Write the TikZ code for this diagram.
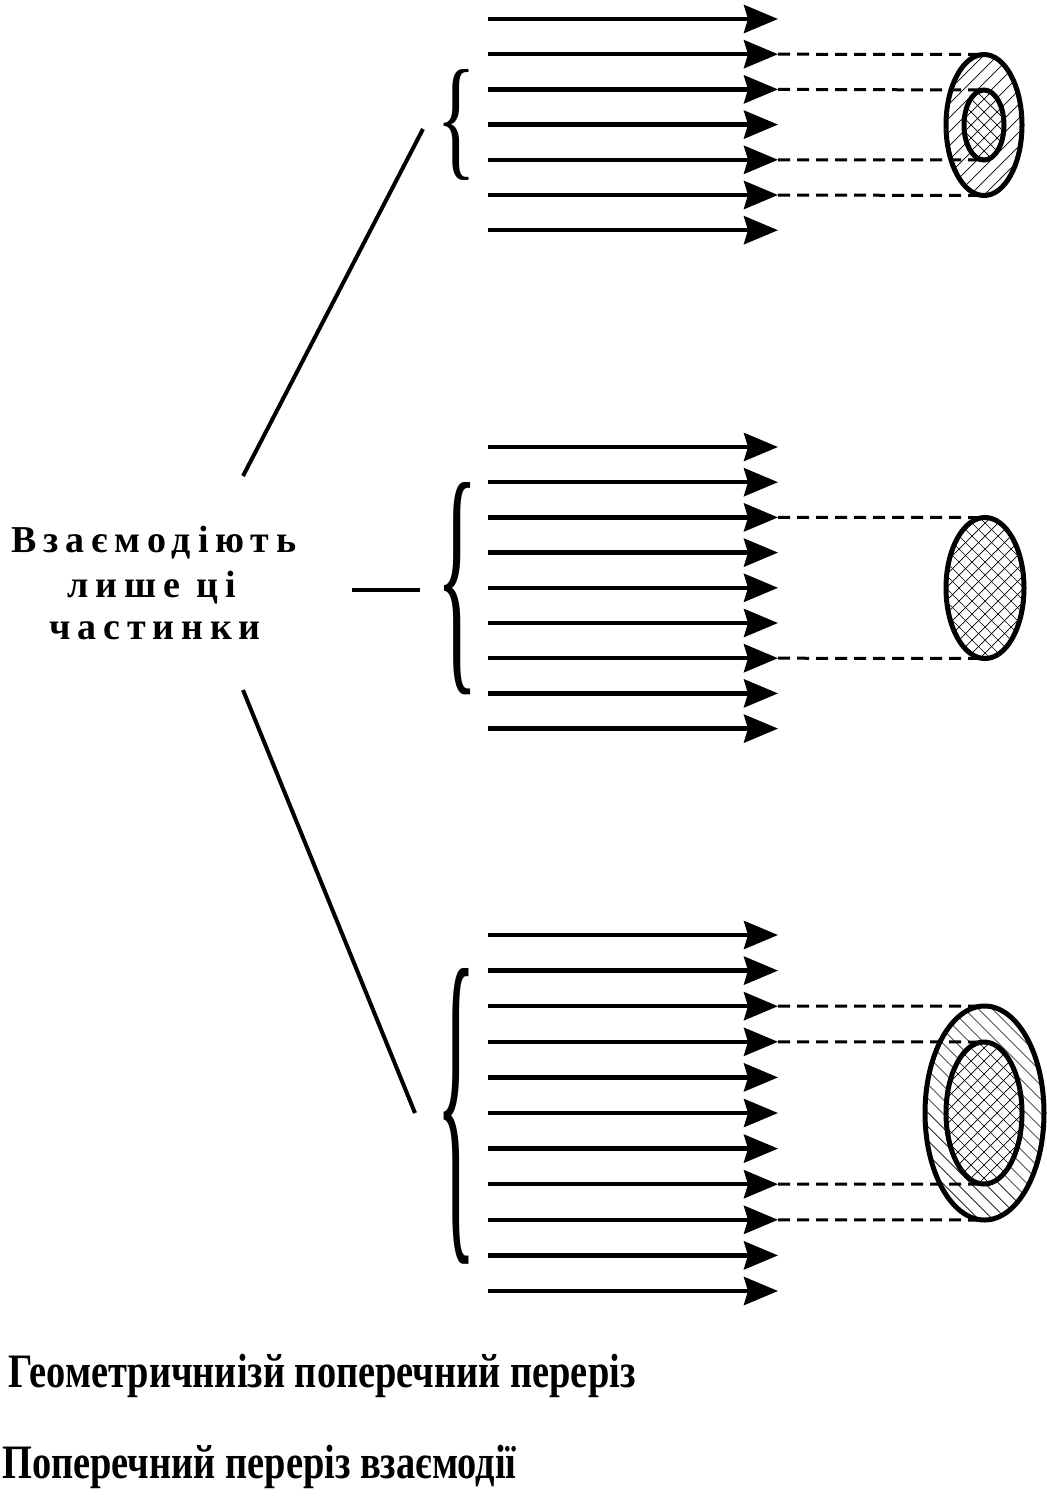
\documentclass[tikz,border=0pt]{standalone}
\usepackage{fontspec}
\setmainfont{Liberation Serif}
\newfontfamily\spacedfont[LetterSpace=18]{Liberation Serif}
\newfontfamily\narrowfont[FakeStretch=0.8]{Liberation Serif}
\newfontfamily\bracefont{Liberation Serif}
\usetikzlibrary{arrows.meta,shapes.geometric}
\begin{document}
\begin{tikzpicture}[x=1pt,y=-1pt,
  arr/.style={line width=4.4pt,-{Stealth[length=34pt,width=28pt,inset=4pt]}},
  dsh/.style={line width=3pt,dash pattern=on 12pt off 7pt},
  conn/.style={line width=4pt},
  ell/.style={ellipse,draw,line width=5pt,inner sep=0pt,outer sep=0pt},
  hatch/.style={line width=0.7pt},
  lbl/.style={inner sep=0pt,font=\spacedfont\bfseries\fontsize{38}{44}\selectfont},
  captext/.style={inner sep=0pt,anchor=base west,font=\narrowfont\bfseries\fontsize{48}{54}\selectfont},
  brc/.style={inner sep=0pt,anchor=west}
]
\useasboundingbox (0,0) rectangle (1047,1497);

% ---------- top group ----------
\foreach \i in {0,...,6}{
  \coordinate (ta\i) at (488,19+35.2*\i);
  \coordinate (tb\i) at (778,19+35.2*\i);
  \draw[arr] (ta\i) -- (tb\i);
}
% outer ring hatching "/"
\begin{scope}
  \clip (984,125) ellipse [x radius=38pt,y radius=70.5pt];
  \foreach \k in {-210,-196,...,210}{
    \draw[hatch] (984+\k-100,225) -- (984+\k+100,25);
  }
\end{scope}
% inner cross hatching
\fill[white] (984,125) ellipse [x radius=20pt,y radius=35pt];
\begin{scope}
  \clip (984,125) ellipse [x radius=20pt,y radius=35pt];
  \foreach \k in {-104,-91,...,104}{
    \draw[hatch] (984+\k-50,175) -- (984+\k+50,75);
    \draw[hatch] (984+\k-50,75) -- (984+\k+50,175);
  }
\end{scope}
\node[ell,minimum width=76pt,minimum height=141pt] (to) at (984,125) {};
\node[ell,minimum width=40pt,minimum height=70pt] (ti) at (984,125) {};
\draw[dsh] (tb1) -- (to.north);
\draw[dsh] (tb2) -- (ti.north);
\draw[dsh] (tb4) -- (ti.south);
\draw[dsh] (tb5) -- (to.south);
\node[brc] (br1) at (436,125) {\resizebox{40pt}{93pt}{\bracefont\{}};

% ---------- middle group ----------
\foreach \i in {0,...,8}{
  \coordinate (ma\i) at (488,447+35.2*\i);
  \coordinate (mb\i) at (778,447+35.2*\i);
  \draw[arr] (ma\i) -- (mb\i);
}
\begin{scope}
  \clip (985,588) ellipse [x radius=39pt,y radius=70.5pt];
  \foreach \k in {-208,-195,...,208}{
    \draw[hatch] (985+\k-100,688) -- (985+\k+100,488);
    \draw[hatch] (985+\k-100,488) -- (985+\k+100,688);
  }
\end{scope}
\node[ell,minimum width=78pt,minimum height=141pt] (mo) at (985,588) {};
\draw[dsh] (mb2) -- (mo.north);
\draw[dsh] (mb6) -- (mo.south);
\node[brc] (br2) at (436,589) {\resizebox{42pt}{178pt}{\bracefont\{}};

% ---------- bottom group ----------
\foreach \i in {0,...,10}{
  \coordinate (ba\i) at (488,935+35.6*\i);
  \coordinate (bb\i) at (778,935+35.6*\i);
  \draw[arr] (ba\i) -- (bb\i);
}
% outer ring hatching "\"
\begin{scope}
  \clip (984.5,1113) ellipse [x radius=59.5pt,y radius=107pt];
  \foreach \k in {-294,-280,...,294}{
    \draw[hatch] (984.5+\k-140,973) -- (984.5+\k+140,1253);
  }
\end{scope}
\fill[white] (984,1113) ellipse [x radius=38pt,y radius=71pt];
\begin{scope}
  \clip (984,1113) ellipse [x radius=38pt,y radius=71pt];
  \foreach \k in {-208,-195,...,208}{
    \draw[hatch] (984+\k-100,1213) -- (984+\k+100,1013);
    \draw[hatch] (984+\k-100,1013) -- (984+\k+100,1213);
  }
\end{scope}
\node[ell,minimum width=119pt,minimum height=214pt] (bo) at (984.5,1113) {};
\node[ell,minimum width=76pt,minimum height=142pt] (bi) at (984,1113) {};
\draw[dsh] (bb2) -- (bo.north);
\draw[dsh] (bb3) -- (bi.north);
\draw[dsh] (bb7) -- (bi.south);
\draw[dsh] (bb8) -- (bo.south);
\node[brc] (br3) at (436,1116) {\resizebox{40pt}{248pt}{\bracefont\{}};

% ---------- label and connectors ----------
\node[lbl,anchor=base] (t1) at (154,552) {Взаємодіють};
\node[lbl,anchor=base] (t2) at (152,597) {лише ці};
\node[lbl,anchor=base] (t3) at (155,639) {частинки};

\coordinate (c1a) at (243,476);  \coordinate (c1b) at (423,129);
\coordinate (c2a) at (352,590);  \coordinate (c2b) at (420,590);
\coordinate (c3a) at (243,690);  \coordinate (c3b) at (415,1113);
\draw[conn] (c1a) -- (c1b);
\draw[conn] (c2a) -- (c2b);
\draw[conn] (c3a) -- (c3b);

% ---------- captions ----------
\node[captext] (cap1) at (8,1387) {Геометричниізй поперечний переріз};
\node[captext] (cap2) at (2,1478) {Поперечний переріз взаємодії};
\end{tikzpicture}
\end{document}
